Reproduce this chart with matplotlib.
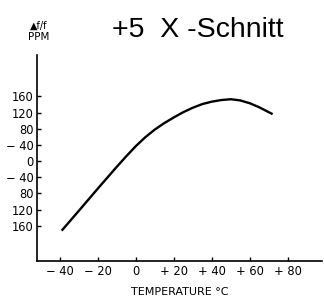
import matplotlib.pyplot as plt

# Kurve: Frequenzabweichung (ppm) ueber Temperatur
temp = [-39, -30, -20, -10, -5, 0, 5, 10, 15, 20, 25, 30, 35, 40, 45, 50, 55, 60, 65, 72]
ppm = [-172, -123, -68, -14, 12, 37, 59, 78, 94, 108, 121, 132, 141, 147, 151, 153, 150, 143, 133, 116]

x_ticks = [-40, -20, 0, 20, 40, 60, 80]
x_labels = ['\u2212 40', '\u2212 20', '0', '+ 20', '+ 40', '+ 60', '+ 80']
y_ticks = [-160, -120, -80, -40, 0, 40, 80, 120, 160]
y_labels = ['160', '120', '80', '\u2212 40', '0', '\u2212 40', '80', '120', '160']

plt.rcParams['font.family'] = ['DejaVu Sans']

fig = plt.figure(figsize=(3.24, 2.98), dpi=100)
ax = fig.add_axes([0.114, 0.124, 0.88, 0.691])

ax.plot(temp, ppm, color='black', linewidth=1.7, solid_capstyle='butt')

ax.set_xlim(-52, 98)
ax.set_ylim(-247, 262)

ax.set_xticks(x_ticks)
ax.set_xticklabels(x_labels, fontsize=8.3)
ax.set_yticks(y_ticks)
ax.set_yticklabels(y_labels, fontsize=8.3)
ax.tick_params(axis='both', direction='in', length=3, width=1, pad=2.5)

for side in ['top', 'right']:
    ax.spines[side].set_visible(False)
for side in ['left', 'bottom']:
    ax.spines[side].set_linewidth(1.2)

ax.set_xlabel('TEMPERATURE \u00b0C', fontsize=8, labelpad=7)

fig.text(0.61, 0.90, '+5  X -Schnitt', fontsize=20.5, ha='center', va='center',
         family='Liberation Sans')
fig.text(0.12, 0.914, '\u25b2f/f', fontsize=7, ha='center', va='center')
fig.text(0.12, 0.877, 'PPM', fontsize=7.5, ha='center', va='center')

fig.savefig('out.png', dpi=100)
